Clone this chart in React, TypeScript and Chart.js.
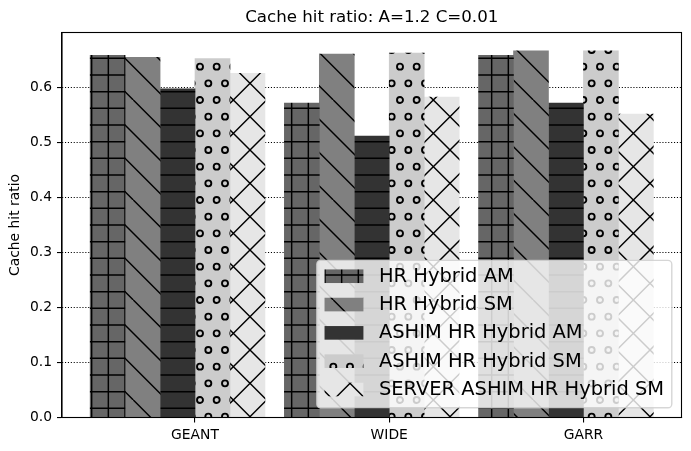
import React, { useEffect, useRef } from 'react';
import { Chart, registerables } from 'chart.js';

Chart.register(...registerables);

// ---- data ----
const categories = ['GEANT', 'WIDE', 'GARR'];
const seriesNames = [
  'HR Hybrid AM',
  'HR Hybrid SM',
  'ASHIM HR Hybrid AM',
  'ASHIM HR Hybrid SM',
  'SERVER ASHIM HR Hybrid SM',
];
const hrHybridAM = [0.658, 0.571, 0.658];
const hrHybridSM = [0.654, 0.66, 0.666];
const ashimHrHybridAM = [0.597, 0.511, 0.571];
const ashimHrHybridSM = [0.652, 0.662, 0.666];
const serverAshimHrHybridSM = [0.625, 0.582, 0.551];
const yTickValues = [0, 0.1, 0.2, 0.3, 0.4, 0.5, 0.6];

const seriesValues = [hrHybridAM, hrHybridSM, ashimHrHybridAM, ashimHrHybridSM, serverAshimHrHybridSM];

// ---- styles ----
const seriesColors = ['#666666', '#808080', '#333333', '#cccccc', '#e6e6e6'];
const seriesHatches = ['+', '\\', '-', 'o', 'x'];
const BAR_WIDTH = 0.18;
const TICK_OFFSET = 2.5 * BAR_WIDTH;
const FONT = '"DejaVu Sans", "Liberation Sans", sans-serif';
const HATCH_LW = 1.45;

function makePattern(ctx: CanvasRenderingContext2D, color: string, hatch: string): CanvasPattern | string {
  const S = 100;
  const n = 6;
  const step = S / n;
  const c = document.createElement('canvas');
  c.width = S;
  c.height = S;
  const g = c.getContext('2d');
  if (!g) return color;
  g.fillStyle = color;
  g.fillRect(0, 0, S, S);
  g.strokeStyle = '#000';
  g.lineWidth = HATCH_LW;
  g.beginPath();
  if (hatch.includes('-') || hatch.includes('+')) {
    for (let k = 0; k < n; k++) {
      const y = (k + 0.5) * step;
      g.moveTo(0, y);
      g.lineTo(S, y);
    }
  }
  if (hatch.includes('|') || hatch.includes('+')) {
    for (let k = 0; k < n; k++) {
      const x = (k + 0.5) * step;
      g.moveTo(x, 0);
      g.lineTo(x, S);
    }
  }
  const diag = S / 3;
  if (hatch.includes('\\') || hatch.includes('x')) {
    for (let c0 = -S; c0 <= S + 0.01; c0 += diag) {
      g.moveTo(c0, 0);
      g.lineTo(c0 + S, S);
    }
  }
  if (hatch.includes('/') || hatch.includes('x')) {
    for (let c0 = 0; c0 <= 2 * S + 0.01; c0 += diag) {
      g.moveTo(c0, 0);
      g.lineTo(c0 - S, S);
    }
  }
  g.stroke();
  if (hatch.includes('o')) {
    const r = step * 0.18;
    g.lineWidth = 1.9;
    for (let row = 0; row <= n; row++) {
      const y = row * step;
      const xs: number[] = [];
      if (row % 2 === 0) {
        for (let k = 0; k <= n; k++) xs.push(k * step);
      } else {
        for (let k = 0; k < n; k++) xs.push((k + 0.5) * step);
      }
      for (const x of xs) {
        g.beginPath();
        g.arc(x, y, r, 0, Math.PI * 2);
        g.stroke();
      }
    }
  }
  const p = ctx.createPattern(c, 'repeat');
  return p || color;
}

export default function App() {
  const ref = useRef<HTMLCanvasElement | null>(null);

  useEffect(() => {
    const canvas = ref.current;
    if (!canvas) return;
    const ctx = canvas.getContext('2d');
    if (!ctx) return;

    const patterns = seriesColors.map((col, i) => makePattern(ctx, col, seriesHatches[i]));

    const allVals = seriesValues.flat();
    const yMax = Math.max(...allVals) * 1.05;
    const dataMinX = -BAR_WIDTH / 2;
    const dataMaxX = categories.length - 1 + (seriesNames.length - 1) * BAR_WIDTH + BAR_WIDTH / 2;
    const margin = (dataMaxX - dataMinX) * 0.05;
    const tickPositions = categories.map((_, i) => i + TICK_OFFSET);

    const datasets = seriesNames.map((name, s) => ({
      label: name,
      data: seriesValues[s].map((v, i) => ({ x: i + s * BAR_WIDTH, y: v })),
      backgroundColor: patterns[s],
      borderWidth: 0,
      grouped: false,
      categoryPercentage: 1,
      barPercentage: 1,
    }));

    const framePlugin = {
      id: 'frame',
      afterDatasetsDraw(chart: any) {
        const { ctx: c, chartArea: a } = chart;
        c.save();
        c.strokeStyle = '#000';
        c.lineWidth = 1.1;
        c.strokeRect(a.left, a.top, a.right - a.left, a.bottom - a.top);
        c.restore();
      },
    };

    const legendPlugin = {
      id: 'mplLegend',
      afterDraw(chart: any) {
        const { ctx: c, chartArea: a } = chart;
        const fs = 19.44;
        c.save();
        c.font = `${fs}px ${FONT}`;
        const maxW = Math.max(...seriesNames.map((t) => c.measureText(t).width));
        const pad = 0.4 * fs;
        const hl = 2.0 * fs;
        const hh = 0.7 * fs;
        const htp = 0.8 * fs;
        const rowH = 18.6;
        const sp = 0.5 * fs;
        const w = pad * 2 + hl + htp + maxW;
        const h = pad * 2 + rowH * seriesNames.length + sp * (seriesNames.length - 1);
        const right = a.right - 0.5 * fs;
        const bottom = a.bottom - 0.5 * fs;
        const left = right - w;
        const top = bottom - h;
        const rr = 0.2 * fs;
        c.beginPath();
        c.moveTo(left + rr, top);
        c.lineTo(right - rr, top);
        c.arcTo(right, top, right, top + rr, rr);
        c.lineTo(right, bottom - rr);
        c.arcTo(right, bottom, right - rr, bottom, rr);
        c.lineTo(left + rr, bottom);
        c.arcTo(left, bottom, left, bottom - rr, rr);
        c.lineTo(left, top + rr);
        c.arcTo(left, top, left + rr, top, rr);
        c.closePath();
        c.fillStyle = 'rgba(255,255,255,0.8)';
        c.fill();
        c.strokeStyle = 'rgba(204,204,204,0.8)';
        c.lineWidth = 1.39;
        c.stroke();
        seriesNames.forEach((name, i) => {
          const rowTop = top + pad + i * (rowH + sp);
          c.fillStyle = patterns[i] as any;
          c.fillRect(left + pad, rowTop + 1.3, hl, hh);
          c.fillStyle = '#000';
          c.textBaseline = 'alphabetic';
          c.textAlign = 'left';
          c.fillText(name, left + pad + hl + htp, rowTop + 13.6);
        });
        c.restore();
      },
    };

    const tickFont = { family: FONT, size: 13.89, weight: 'normal' as const };

    const chart = new Chart(canvas, {
      type: 'bar',
      data: { datasets: datasets as any },
      plugins: [framePlugin, legendPlugin],
      options: {
        responsive: false,
        animation: false,
        devicePixelRatio: 1,
        layout: { padding: { left: 0, right: 9.5, top: 0, bottom: 0 } },
        plugins: {
          legend: { display: false },
          tooltip: { enabled: false },
          title: {
            display: true,
            fullSize: false,
            text: 'Cache hit ratio: A=1.2 C=0.01',
            color: '#000',
            font: { family: FONT, size: 16.67, weight: 'normal', lineHeight: 1.2 },
            padding: { top: 8, bottom: 4.5 },
          },
        },
        scales: {
          x: {
            type: 'linear',
            offset: false,
            min: dataMinX - margin,
            max: dataMaxX + margin,
            afterBuildTicks: (scale: any) => {
              scale.ticks = tickPositions.map((v) => ({ value: v }));
            },
            afterFit: (scale: any) => {
              scale.height = 33.5;
            },
            grid: {
              display: true,
              offset: false,
              drawOnChartArea: false,
              drawTicks: true,
              tickLength: 5,
              color: '#000',
              tickColor: '#000',
              lineWidth: 1.1,
            },
            border: { display: true, color: '#000', width: 1.1 },
            ticks: {
              callback: (_v: any, i: number) => categories[i],
              color: '#000',
              font: tickFont,
              padding: 5,
              maxRotation: 0,
              minRotation: 0,
              autoSkip: false,
            },
          },
          y: {
            type: 'linear',
            min: 0,
            max: yMax,
            afterBuildTicks: (scale: any) => {
              scale.ticks = yTickValues.map((v) => ({ value: v }));
            },
            afterFit: (scale: any) => {
              scale.width = 62;
            },
            grid: {
              color: '#000',
              lineWidth: 1.1,
              tickLength: 5,
              tickColor: '#000',
              tickBorderDash: [],
            } as any,
            border: { display: true, color: '#000', width: 1.1, dash: [1.1, 1.8] } as any,
            ticks: {
              callback: (v: any) => Number(v).toFixed(1),
              color: '#000',
              font: tickFont,
              padding: 5,
            },
            title: {
              display: true,
              text: 'Cache hit ratio',
              color: '#000',
              font: { family: FONT, size: 13.89, weight: 'normal', lineHeight: 1.2 },
              padding: { top: 7.5, bottom: 0 },
            },
          },
        },
      } as any,
    });

    return () => {
      chart.destroy();
    };
  }, []);

  return (
    <div style={{ position: 'absolute', left: 0, top: 0, width: 691, height: 451, background: '#fff' }}>
      <canvas ref={ref} width={691} height={451} style={{ display: 'block', width: 691, height: 451 }} />
    </div>
  );
}
